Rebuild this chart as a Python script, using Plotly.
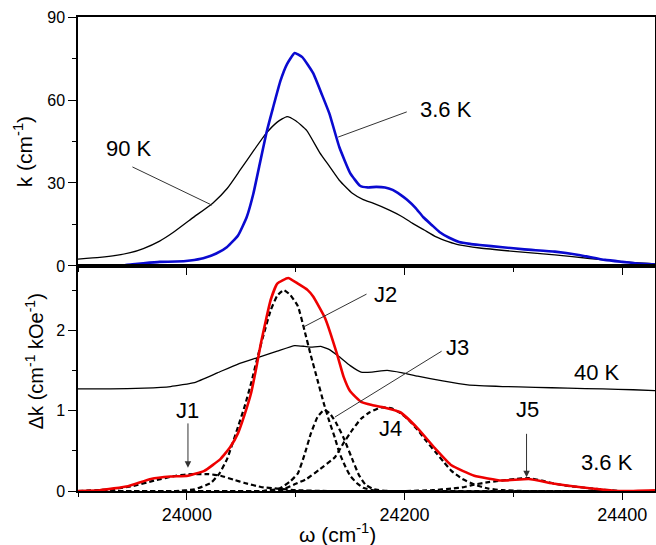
import plotly.graph_objects as go
from plotly.subplots import make_subplots

# ---------------- data: top panel (k, cm^-1) ----------------
w_36K_top = [23900, 23920, 23940, 23950, 23960, 23975, 23990, 24003, 24015, 24027,
             24037, 24047, 24055, 24061, 24067, 24073, 24079, 24086, 24092, 24099,
             24106, 24116, 24124, 24131, 24140, 24150, 24159, 24166, 24174, 24182,
             24189, 24196, 24202, 24210, 24217, 24225, 24232, 24241, 24250, 24260,
             24269, 24290, 24310, 24338, 24360, 24384, 24400, 24412, 24430]
k_36K_top = [0.0, 0.0, 0.2, 0.6, 1.0, 1.5, 1.6, 2.0, 2.8, 4.5,
             6.9, 11.0, 17.7, 26.0, 37.0, 48.0, 57.0, 67.0, 73.0, 77.0,
             75.5, 69.7, 62.0, 55.0, 43.0, 33.6, 29.0, 28.4, 28.6, 28.4,
             27.5, 25.8, 24.0, 21.0, 17.7, 14.8, 12.3, 10.2, 8.7, 8.0,
             7.6, 6.8, 6.0, 5.2, 4.0, 2.2, 1.5, 1.0, 0.5]

w_90K = [23900, 23920, 23935, 23948, 23960, 23975, 23987, 24005, 24024, 24037, 24049,
         24061, 24073, 24083, 24092, 24100, 24110, 24122, 24131, 24140, 24152,
         24162, 24171, 24186, 24197, 24207, 24218, 24229, 24240, 24250, 24269,
         24300, 24338, 24370, 24402, 24430]
k_90K = [2.5, 3.1, 3.8, 4.8, 6.3, 9.0, 12.0, 17.3, 22.8, 28.0, 34.7,
         41.5, 48.0, 52.0, 54.0, 52.5, 49.0, 41.0, 36.0, 31.0, 26.3,
         24.0, 22.7, 20.2, 18.0, 15.5, 13.0, 10.5, 8.8, 7.6, 6.5,
         5.3, 4.0, 2.7, 1.5, 0.8]

# ---------------- data: bottom panel (dk, cm^-1 kOe^-1) ----------------
w_36K_bot = [23900, 23920, 23946, 23967, 23985, 24001, 24016, 24031, 24040, 24047,
             24053, 24059, 24064, 24068, 24073, 24077, 24083, 24093, 24102, 24111,
             24116, 24127, 24138, 24144, 24150, 24160, 24170, 24181, 24196, 24212,
             24228, 24243, 24264, 24289, 24314, 24338, 24366, 24397, 24430]
dk_36K = [0.0, 0.01, 0.06, 0.15, 0.18, 0.19, 0.25, 0.40, 0.55, 0.72,
          0.95, 1.22, 1.55, 1.84, 2.15, 2.38, 2.58, 2.65, 2.58, 2.50,
          2.42, 2.15, 1.70, 1.42, 1.24, 1.11, 1.07, 1.04, 0.98, 0.78,
          0.53, 0.32, 0.19, 0.13, 0.15, 0.09, 0.04, 0.0, 0.01]

w_40K = [23900, 23930, 23961, 23985, 24007, 24028, 24047, 24065, 24083, 24099,
         24108, 24114, 24123, 24131, 24140, 24150, 24160, 24170, 24184, 24198,
         24212, 24235, 24258, 24290, 24320, 24350, 24382, 24410, 24430]
dk_40K = [1.27, 1.27, 1.28, 1.30, 1.35, 1.47, 1.58, 1.66, 1.74, 1.81,
          1.80, 1.79, 1.80, 1.76, 1.67, 1.56, 1.48, 1.48, 1.50, 1.47,
          1.43, 1.37, 1.32, 1.30, 1.29, 1.28, 1.27, 1.26, 1.25]

w_J1 = [23900, 23930, 23950, 23970, 23990, 24005, 24020, 24031, 24043, 24053,
        24068, 24083, 24100, 24130, 24430]
dk_J1 = [0.0, 0.02, 0.06, 0.13, 0.19, 0.21, 0.21, 0.19, 0.14, 0.10,
         0.05, 0.03, 0.01, 0.0, 0.0]

w_J2 = [23900, 23990, 24007, 24022, 24030, 24037, 24047, 24053, 24059, 24065,
        24071, 24077, 24083, 24089, 24095, 24102, 24108, 24114, 24120, 24126,
        24131, 24136, 24140, 24145, 24150, 24156, 24162, 24175, 24430]
dk_J2 = [0.0, 0.0, 0.02, 0.10, 0.22, 0.40, 0.80, 1.05, 1.34, 1.67,
         1.97, 2.25, 2.43, 2.50, 2.44, 2.30, 2.00, 1.68, 1.38, 1.08,
         0.86, 0.66, 0.48, 0.32, 0.19, 0.10, 0.04, 0.0, 0.0]

w_J3 = [23900, 24070, 24085, 24095, 24102, 24108, 24114, 24120, 24126, 24131,
        24137, 24144, 24153, 24158, 24164, 24172, 24185, 24430]
dk_J3 = [0.0, 0.0, 0.03, 0.12, 0.22, 0.45, 0.72, 0.92, 1.01, 0.97,
         0.85, 0.66, 0.36, 0.20, 0.08, 0.02, 0.0, 0.0]

w_J4 = [23900, 24070, 24090, 24100, 24110, 24122, 24136, 24144, 24152, 24160,
        24168, 24178, 24188, 24196, 24204, 24212, 24220, 24228, 24236, 24243,
        24253, 24264, 24277, 24290, 24310, 24430]
dk_J4 = [0.0, 0.0, 0.03, 0.09, 0.15, 0.27, 0.42, 0.60, 0.76, 0.90,
         0.98, 1.04, 1.03, 0.97, 0.88, 0.76, 0.62, 0.49, 0.36, 0.25,
         0.15, 0.08, 0.03, 0.01, 0.0, 0.0]

w_J5 = [23900, 24200, 24225, 24243, 24255, 24264, 24277, 24289, 24301, 24314,
        24326, 24338, 24352, 24366, 24380, 24397, 24430]
dk_J5 = [0.0, 0.0, 0.01, 0.03, 0.05, 0.08, 0.11, 0.13, 0.15, 0.16,
         0.13, 0.09, 0.06, 0.04, 0.02, 0.0, 0.0]

# tick values / labels
x_ticks = [24000, 24200, 24400]
x_tick_labels = ["24000", "24200", "24400"]
y_top_ticks = [0, 30, 60, 90]
y_bot_ticks = [0, 1, 2]

# ---------------- figure ----------------
FONT = "Liberation Sans, Arial, sans-serif"
fig = make_subplots(rows=2, cols=1, shared_xaxes=True, vertical_spacing=0)

fig.add_trace(go.Scatter(x=w_90K, y=k_90K, mode="lines",
                         line=dict(color="black", width=1.3, shape="spline", smoothing=0.5)),
              row=1, col=1)
fig.add_trace(go.Scatter(x=w_36K_top, y=k_36K_top, mode="lines",
                         line=dict(color="#0a0ad0", width=2.6, shape="spline", smoothing=0.4)),
              row=1, col=1)

dash = "5px,3px"
for wx, dy in [(w_J1, dk_J1), (w_J2, dk_J2), (w_J3, dk_J3), (w_J4, dk_J4), (w_J5, dk_J5)]:
    fig.add_trace(go.Scatter(x=wx, y=dy, mode="lines",
                             line=dict(color="black", width=2.2, dash=dash,
                                       shape="spline", smoothing=0.4)),
                  row=2, col=1)
fig.add_trace(go.Scatter(x=w_40K, y=dk_40K, mode="lines",
                         line=dict(color="black", width=1.3, shape="spline", smoothing=0.4)),
              row=2, col=1)
fig.add_trace(go.Scatter(x=w_36K_bot, y=dk_36K, mode="lines",
                         line=dict(color="#ee0000", width=2.6, shape="spline", smoothing=0.4)),
              row=2, col=1)

axis_common = dict(showline=True, linecolor="black", linewidth=1.5, mirror=True,
                   showgrid=False, zeroline=False, ticks="outside", automargin=False,
                   tickcolor="black", tickwidth=1.2)

fig.update_xaxes(range=[23900, 24430], tickvals=x_ticks, ticktext=x_tick_labels, ticklen=7,
                 minor=dict(dtick=100, tick0=24000, ticks="outside", ticklen=4,
                            tickcolor="black", tickwidth=1),
                 tickfont=dict(family=FONT, size=18, color="black"),
                 **axis_common)
fig.update_xaxes(showticklabels=False, row=1, col=1)

fig.update_yaxes(range=[0, 90], tickvals=y_top_ticks, ticklen=8,
                 minor=dict(dtick=15, ticks="outside", ticklen=4,
                            tickcolor="black", tickwidth=1),
                 tickfont=dict(family=FONT, size=16, color="black"),
                 row=1, col=1, **axis_common)
fig.update_yaxes(range=[0, 2.8], tickvals=y_bot_ticks, ticklen=8,
                 minor=dict(dtick=0.5, ticks="outside", ticklen=4,
                            tickcolor="black", tickwidth=1),
                 tickfont=dict(family=FONT, size=16, color="black"),
                 row=2, col=1, **axis_common)

fig.update_layout(yaxis=dict(domain=[0.4747, 1.0]), yaxis2=dict(domain=[0.0, 0.4747]))

# connector lines (data coordinates)
connectors_top = [((23950, 35.8), (24023, 22.0)), ((24202, 55.7), (24139, 46.6))]
connectors_bot = [((24165, 2.45), (24107, 2.04)), ((24234, 1.74), (24136, 0.92))]
for (x0, y0), (x1, y1) in connectors_top:
    fig.add_shape(type="line", x0=x0, y0=y0, x1=x1, y1=y1, xref="x", yref="y",
                  line=dict(color="#333333", width=1))
for (x0, y0), (x1, y1) in connectors_bot:
    fig.add_shape(type="line", x0=x0, y0=y0, x1=x1, y1=y1, xref="x2", yref="y2",
                  line=dict(color="#333333", width=1))

# arrows J1, J5
arrows_bot = [((24001, 0.86), (24001, 0.29)), ((24312, 0.73), (24312, 0.17))]
for (xa, ya), (xh, yh) in arrows_bot:
    fig.add_annotation(x=xh, y=yh, ax=xa, ay=ya, xref="x2", yref="y2",
                       axref="x2", ayref="y2", text="", showarrow=True,
                       arrowhead=2, arrowsize=1.3, arrowwidth=1, arrowcolor="#333333")

# labels
lab_font = dict(family=FONT, size=22, color="black")
labels_top = [("90 K", 23947, 42.3), ("3.6 K", 24238, 56.4)]
labels_bot = [("J1", 24001, 1.0), ("J2", 24182, 2.45), ("J3", 24249, 1.78),
              ("J4", 24187, 0.78), ("40 K", 24377, 1.48), ("J5", 24313, 1.01),
              ("3.6 K", 24386, 0.36)]
for t, x, y in labels_top:
    fig.add_annotation(x=x, y=y, xref="x", yref="y", text=t, showarrow=False, font=lab_font)
for t, x, y in labels_bot:
    fig.add_annotation(x=x, y=y, xref="x2", yref="y2", text=t, showarrow=False, font=lab_font)

# axis titles as annotations
title_font = dict(family=FONT, size=21, color="black")
fig.add_annotation(text="k (cm<sup>-1</sup>)", xref="paper", yref="paper",
                   x=-0.095, y=0.715, textangle=-90, showarrow=False, font=title_font,
                   xanchor="center", yanchor="middle")
fig.add_annotation(text="Δk (cm<sup>-1</sup> kOe<sup>-1</sup>)", xref="paper", yref="paper",
                   x=-0.076, y=0.274, textangle=-90, showarrow=False,
                   font=dict(family=FONT, size=20, color="black"),
                   xanchor="center", yanchor="middle")
fig.add_annotation(text="ω (cm<sup>-1</sup>)", xref="paper", yref="paper",
                   x=0.45, y=-0.088, showarrow=False, font=title_font,
                   xanchor="center", yanchor="middle")

fig.update_layout(width=656, height=545, showlegend=False,
                  margin=dict(l=78, r=1, t=17, b=54, autoexpand=False),
                  paper_bgcolor="white", plot_bgcolor="white")

fig.write_html("out.html", config={"displayModeBar": False},
               post_script="document.body.style.margin='0';document.body.style.overflow='hidden';")
